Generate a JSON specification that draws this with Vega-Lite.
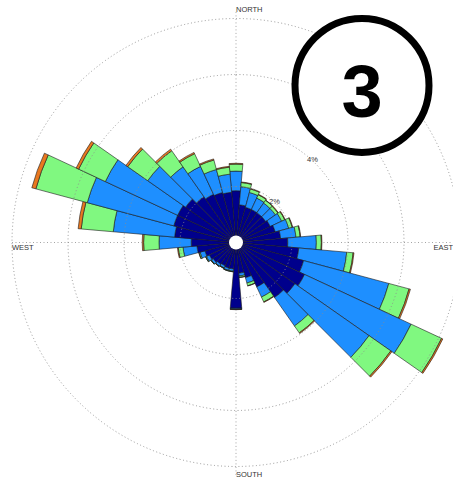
{
  "$schema": "https://vega.github.io/schema/vega-lite/v6.json",
  "width": 434,
  "height": 485,
  "autosize": {"type": "none"},
  "padding": {"left": 19, "top": 0, "right": 0, "bottom": 0},
  "background": "white",
  "config": {"view": {"stroke": null}},
  "layer": [
    {
      "data": {"values": [
        {"x": -8, "y": 0, "x2": 8, "y2": 0},
        {"x": 0, "y": -8.3, "x2": 0, "y2": 8.3}
      ]},
      "mark": {"type": "rule", "color": "#9a9a9a", "strokeWidth": 0.9, "strokeDash": [1, 2.5]},
      "encoding": {
        "x": {"field": "x", "type": "quantitative", "scale": {"domain": [-7.75, 7.75], "nice": false, "zero": false}, "axis": null},
        "y": {"field": "y", "type": "quantitative", "scale": {"domain": [-8.661, 8.661], "nice": false, "zero": false}, "axis": null},
        "x2": {"field": "x2"},
        "y2": {"field": "y2"}
      }
    },
    {
      "data": {"values": [
        {"dir": 0, "from": -5, "to": 5, "s1": 1.85, "s2": 0.70, "s3": 0.25, "s4": 0.03},
        {"dir": 10, "from": 5, "to": 15, "s1": 1.35, "s2": 0.65, "s3": 0.15, "s4": 0.02},
        {"dir": 20, "from": 15, "to": 25, "s1": 1.30, "s2": 0.55, "s3": 0.13, "s4": 0.02},
        {"dir": 30, "from": 25, "to": 35, "s1": 1.30, "s2": 0.45, "s3": 0.13, "s4": 0.02},
        {"dir": 40, "from": 35, "to": 45, "s1": 1.30, "s2": 0.42, "s3": 0.12, "s4": 0.01},
        {"dir": 50, "from": 45, "to": 55, "s1": 1.30, "s2": 0.42, "s3": 0.11, "s4": 0.02},
        {"dir": 60, "from": 55, "to": 65, "s1": 1.35, "s2": 0.45, "s3": 0.12, "s4": 0.02},
        {"dir": 70, "from": 65, "to": 75, "s1": 1.45, "s2": 0.50, "s3": 0.13, "s4": 0.02},
        {"dir": 80, "from": 75, "to": 85, "s1": 1.60, "s2": 0.55, "s3": 0.15, "s4": 0.02},
        {"dir": 90, "from": 85, "to": 95, "s1": 1.85, "s2": 1.02, "s3": 0.18, "s4": 0.02},
        {"dir": 100, "from": 95, "to": 105, "s1": 2.25, "s2": 1.72, "s3": 0.23, "s4": 0.03},
        {"dir": 110, "from": 105, "to": 115, "s1": 2.50, "s2": 3.15, "s3": 0.75, "s4": 0.05},
        {"dir": 120, "from": 115, "to": 125, "s1": 2.70, "s2": 4.20, "s3": 1.20, "s4": 0.05},
        {"dir": 130, "from": 125, "to": 135, "s1": 2.57, "s2": 3.23, "s3": 0.95, "s4": 0.05},
        {"dir": 140, "from": 135, "to": 145, "s1": 2.40, "s2": 1.24, "s3": 0.30, "s4": 0.03},
        {"dir": 150, "from": 145, "to": 155, "s1": 1.75, "s2": 0.40, "s3": 0.19, "s4": 0.02},
        {"dir": 160, "from": 155, "to": 165, "s1": 1.30, "s2": 0.20, "s3": 0.10, "s4": 0.01},
        {"dir": 170, "from": 165, "to": 175, "s1": 1.10, "s2": 0.10, "s3": 0.05, "s4": 0.01},
        {"dir": 180, "from": 175, "to": 185, "s1": 2.35, "s2": 0.03, "s3": 0.01, "s4": 0.01},
        {"dir": 190, "from": 185, "to": 195, "s1": 0.95, "s2": 0.08, "s3": 0.02, "s4": 0.0},
        {"dir": 200, "from": 195, "to": 205, "s1": 0.95, "s2": 0.08, "s3": 0.02, "s4": 0.0},
        {"dir": 210, "from": 205, "to": 215, "s1": 0.92, "s2": 0.08, "s3": 0.02, "s4": 0.0},
        {"dir": 220, "from": 215, "to": 225, "s1": 0.95, "s2": 0.08, "s3": 0.02, "s4": 0.0},
        {"dir": 230, "from": 225, "to": 235, "s1": 1.00, "s2": 0.08, "s3": 0.02, "s4": 0.0},
        {"dir": 240, "from": 235, "to": 245, "s1": 1.05, "s2": 0.12, "s3": 0.03, "s4": 0.0},
        {"dir": 250, "from": 245, "to": 255, "s1": 1.15, "s2": 0.18, "s3": 0.04, "s4": 0.01},
        {"dir": 260, "from": 255, "to": 265, "s1": 1.40, "s2": 0.50, "s3": 0.17, "s4": 0.03},
        {"dir": 270, "from": 265, "to": 275, "s1": 1.60, "s2": 1.15, "s3": 0.55, "s4": 0.05},
        {"dir": 280, "from": 275, "to": 285, "s1": 2.20, "s2": 2.20, "s3": 1.15, "s4": 0.11},
        {"dir": 290, "from": 285, "to": 295, "s1": 2.30, "s2": 3.20, "s3": 1.90, "s4": 0.15},
        {"dir": 300, "from": 295, "to": 305, "s1": 2.30, "s2": 2.85, "s3": 1.05, "s4": 0.10},
        {"dir": 310, "from": 305, "to": 315, "s1": 2.20, "s2": 1.65, "s3": 0.87, "s4": 0.08},
        {"dir": 320, "from": 315, "to": 325, "s1": 2.00, "s2": 1.30, "s3": 0.70, "s4": 0.07},
        {"dir": 330, "from": 325, "to": 335, "s1": 1.90, "s2": 1.10, "s3": 0.50, "s4": 0.05},
        {"dir": 340, "from": 335, "to": 345, "s1": 1.85, "s2": 0.85, "s3": 0.35, "s4": 0.04},
        {"dir": 350, "from": 345, "to": 355, "s1": 1.80, "s2": 0.65, "s3": 0.25, "s4": 0.03}
      ]},
      "transform": [
        {"fold": ["s1", "s2", "s3", "s4"], "as": ["speed", "pct"]},
        {"stack": "pct", "groupby": ["dir"], "sort": [{"field": "speed", "order": "ascending"}], "as": ["r0", "r1"]}
      ],
      "mark": {"type": "arc", "stroke": "#1a1a1a", "strokeWidth": 0.6},
      "encoding": {
        "theta": {"field": "from", "type": "quantitative", "scale": {"type": "linear", "domain": [0, 360], "range": [0, 6.283185307], "nice": false, "zero": false}},
        "theta2": {"field": "to"},
        "radius": {"field": "r1", "type": "quantitative", "stack": null, "scale": {"type": "linear", "domain": [0, 8], "range": [0, 224], "nice": false, "zero": true}},
        "radius2": {"field": "r0"},
        "color": {"field": "speed", "type": "nominal", "scale": {"domain": ["s1", "s2", "s3", "s4"], "range": ["#00008c", "#1e8fff", "#80f880", "#e87820"]}, "legend": null}
      }
    },
    {
      "data": {"values": [{"pct": 2}, {"pct": 4}, {"pct": 6}, {"pct": 8}]},
      "mark": {"type": "arc", "theta": 0, "theta2": 6.2832, "filled": false, "stroke": "#8c8c8c", "strokeWidth": 0.9, "strokeDash": [1, 2.5]},
      "encoding": {
        "radius": {"field": "pct", "type": "quantitative", "stack": null}
      }
    },
    {
      "data": {"values": [{"pct": 0.25}]},
      "mark": {"type": "arc", "theta": 0, "theta2": 6.2832, "fill": "white", "stroke": null},
      "encoding": {
        "radius": {"field": "pct", "type": "quantitative", "stack": null}
      }
    },
    {
      "data": {"values": [
        {"t": "NORTH", "x": 0, "y": 8.32},
        {"t": "SOUTH", "x": 0, "y": -8.29},
        {"t": "WEST", "x": -8.0, "y": -0.18},
        {"t": "EAST", "x": 7.05, "y": -0.18},
        {"t": "2%", "x": 1.18, "y": 1.46},
        {"t": "4%", "x": 2.54, "y": 2.93}
      ]},
      "mark": {"type": "text", "align": "left", "baseline": "middle", "font": "Liberation Sans", "fontSize": 7.5, "fill": "#333"},
      "encoding": {
        "x": {"field": "x", "type": "quantitative", "axis": null},
        "y": {"field": "y", "type": "quantitative", "axis": null},
        "text": {"field": "t"}
      }
    },
    {
      "data": {"values": [{"label": "3", "x": 4.5, "y": 5.61, "ty": 4.5}]},
      "layer": [
        {
          "mark": {"type": "point", "shape": "circle", "size": 17956, "filled": true, "fill": "white", "stroke": "black", "strokeWidth": 7, "opacity": 1},
          "encoding": {
            "x": {"field": "x", "type": "quantitative", "axis": null},
            "y": {"field": "y", "type": "quantitative", "axis": null}
          }
        },
        {
          "mark": {"type": "text", "align": "center", "baseline": "alphabetic", "font": "Liberation Sans", "fontWeight": "bold", "fontSize": 74, "fill": "black"},
          "encoding": {
            "x": {"field": "x", "type": "quantitative", "axis": null},
            "y": {"field": "ty", "type": "quantitative", "axis": null},
            "text": {"field": "label"}
          }
        }
      ]
    }
  ]
}
